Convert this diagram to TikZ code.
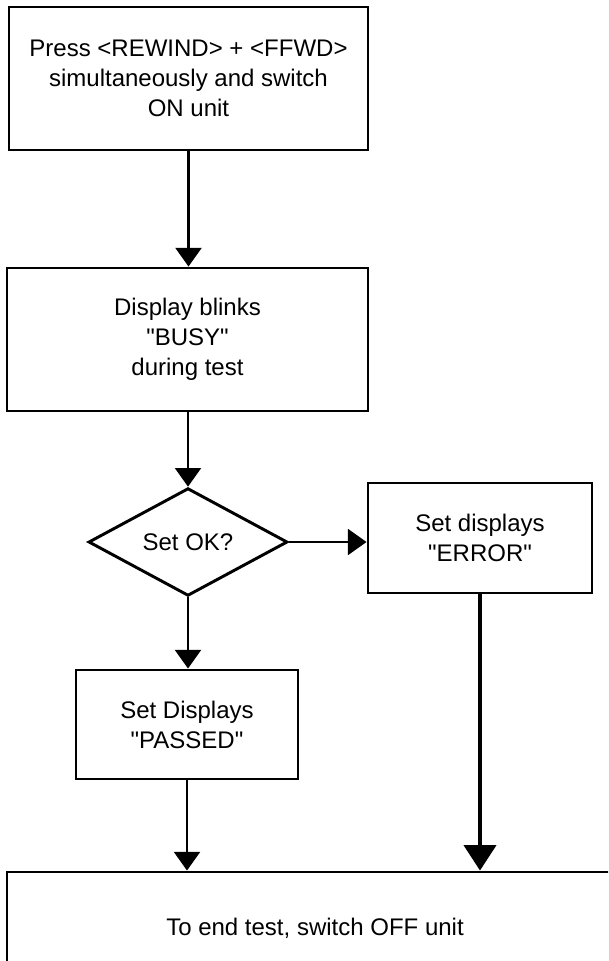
\documentclass[tikz,border=0pt]{standalone}
\usepackage{fontspec}
\setmainfont{Liberation Sans}[Ligatures=TeXOff]
\usetikzlibrary{arrows.meta,shapes.geometric}

\tikzset{
  box/.style={draw, line width=2.2pt, align=center, inner sep=0pt,
    font=\fontsize{18}{22.5}\selectfont},
  check/.style={box, diamond, minimum width=149.25pt, minimum height=78.75pt},
  flow/.style={line width=1.6pt, -{Triangle[length=14pt,width=19.5pt]}},
  bigflow/.style={line width=2.8pt, -{Triangle[length=19pt,width=24pt]}},
}

\begin{document}
\begin{tikzpicture}[x=0.75pt,y=-0.75pt]
\useasboundingbox (0,0) rectangle (608,961);
\clip (0,0) rectangle (608,961);

% steps
\node[box, minimum width=269.25pt, minimum height=107.25pt] (press) at (188.5,78.5)
  {Press <REWIND> + <FFWD>\\simultaneously and switch\\ON unit};
\node[box, minimum width=270.75pt, minimum height=107.25pt] (blink) at (187.5,339.5)
  {Display blinks\\"BUSY"\\during test};
\node[check] (ok) at (188,542) {Set OK?};
\node[box, minimum width=168pt, minimum height=82.5pt] (err) at (480,538)
  {Set displays\\"ERROR"};
\node[box, minimum width=166.5pt, minimum height=81.75pt] (passed) at (187,724.5)
  {Set Displays\\"PASSED"};

% last step, runs off the page
\node[box, minimum width=462pt, minimum height=84.75pt] (off) at (315,928.5)
  {To end test, switch OFF unit};

% arrows
\draw[flow] (press.south) -- (press.south |- blink.north);
\draw[flow] (blink.south -| ok.north) -- (ok.north);
\draw[flow] (ok.east) -- (ok.east -| err.west);
\draw[flow] (ok.south) -- (ok.south |- passed.north);
\draw[flow] (passed.south) -- (passed.south |- off.north);
\draw[bigflow] (err.south) -- (err.south |- off.north);
\end{tikzpicture}
\end{document}
